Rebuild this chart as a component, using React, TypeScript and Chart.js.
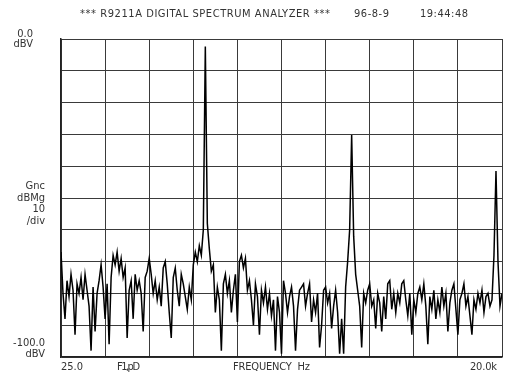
import React, { useEffect, useRef } from "react";
import { Chart, registerables } from "chart.js";

Chart.register(...registerables);

// Sweep span (Hz) and reference levels (dBV)
const FREQ_START = 25;
const FREQ_STOP = 20000;
const LEVEL_TOP = 0;
const LEVEL_BOTTOM = -100;

// Measured level per frequency bin, dBV (221 bins across the span)
const levels: number[] = [
  -67, -80, -88, -76, -81, -74, -79, -93, -77, -80,
  -75, -82, -74, -79, -84, -98, -78, -92, -80, -76,
  -71, -78, -88, -77, -96, -75, -68, -71, -67, -73,
  -69, -75, -72, -94, -79, -76, -88, -74, -79, -76,
  -80, -92, -75, -73, -69, -74, -80, -76, -82, -78,
  -84, -72, -70, -77, -86, -94, -75, -72, -79, -84,
  -74, -77, -81, -85, -78, -82, -71, -67, -70, -65,
  -68, -60, -2.4, -58, -66, -73, -71, -86, -78, -82,
  -98, -77, -74, -80, -76, -86, -79, -74, -89, -70,
  -68, -72, -69, -79, -76, -82, -90, -77, -81, -93,
  -79, -83, -78, -85, -80, -87, -82, -98, -81, -86,
  -99, -76, -80, -86, -81, -78, -84, -98, -85, -79,
  -78, -77, -84, -80, -77, -89, -82, -86, -80, -97,
  -90, -79, -78, -83, -80, -91, -84, -79, -86, -99,
  -88, -99, -78, -70, -60, -30.2, -62, -74, -79, -84,
  -97, -80, -83, -79, -77, -84, -82, -91, -80, -83,
  -92, -81, -88, -77, -76, -85, -80, -86, -80, -83,
  -77, -76, -82, -87, -80, -93, -82, -86, -80, -78,
  -82, -77, -84, -96, -81, -85, -79, -88, -82, -86,
  -78, -84, -80, -92, -83, -79, -77, -85, -93, -82,
  -80, -77, -84, -81, -87, -93, -82, -85, -80, -83,
  -79, -86, -81, -80, -84, -82, -68, -41.5, -70, -84,
  -80,
];

// Screen annotations
const headerTitle = "*** R9211A DIGITAL SPECTRUM ANALYZER ***";
const headerDate = "96-8-9";
const headerTime = "19:44:48";
const topRefLabel = ["0.0", "dBV"];
const scaleLabel = ["Gnc", "dBMg", "10", "/div"];
const bottomRefLabel = ["-100.0", "dBV"];
const startLabel = "25.0";
const markerLabel = "F1,pD";
const axisLabel = "FREQUENCY  Hz";
const stopLabel = "20.0k";

const DIVISIONS = 10;

const FONT = '"Liberation Sans Narrow", "DejaVu Sans Condensed", sans-serif';
const INK = "#333";

export default function App() {
  const canvasRef = useRef<HTMLCanvasElement | null>(null);

  useEffect(() => {
    const canvas = canvasRef.current;
    if (!canvas) return;

    const binWidth = (FREQ_STOP - FREQ_START) / (levels.length - 1);
    const points = levels.map((v, i) => ({ x: FREQ_START + i * binWidth, y: v }));
    const gridFreqs = Array.from({ length: DIVISIONS + 1 }, (_, i) =>
      FREQ_START + (i * (FREQ_STOP - FREQ_START)) / DIVISIONS
    );

    const textPlugin = {
      id: "screenText",
      afterDraw(chart: Chart) {
        const ctx = chart.ctx;
        const area = chart.chartArea;
        ctx.save();
        ctx.fillStyle = INK;
        ctx.textBaseline = "alphabetic";

        const fit = (text: string, x: number, y: number, width: number, size: number) => {
          ctx.font = `${size}px ${FONT}`;
          (ctx as any).letterSpacing = "0px";
          const w = ctx.measureText(text).width;
          const spacing = text.length > 1 ? (width - w) / (text.length - 1) : 0;
          (ctx as any).letterSpacing = `${spacing}px`;
          ctx.textAlign = "left";
          ctx.fillText(text, x, y);
          (ctx as any).letterSpacing = "0px";
        };
        const right = (text: string, x: number, y: number, size: number) => {
          ctx.font = `${size}px ${FONT}`;
          ctx.textAlign = "right";
          ctx.fillText(text, x, y);
        };

        // header line
        fit(headerTitle, 80, 17, 250, 11);
        fit(headerDate, 354, 17, 35, 11);
        fit(headerTime, 420, 17, 48, 11);

        // left-hand reference labels
        right(topRefLabel[0], 33, area.top - 2, 11);
        right(topRefLabel[1], 33, area.top + 8, 11);
        const scaleY = [189, 201, 212, 224];
        scaleLabel.forEach((t, i) => right(t, 45, scaleY[i], 11));
        right(bottomRefLabel[0], 45, area.bottom - 11, 11);
        right(bottomRefLabel[1], 45, area.bottom, 11);

        // frequency axis labels
        const by = area.bottom + 13;
        fit(startLabel, area.left, by, 22, 11);
        fit(markerLabel, 117, by, 23, 11);
        fit(axisLabel, 233, by, 77, 11);
        fit(stopLabel, 470, by, 27, 11);
        ctx.restore();
      },
    };

    const chart = new Chart(canvas, {
      type: "line",
      data: {
        datasets: [
          {
            data: points,
            borderColor: "#000",
            borderWidth: 1.5,
            pointRadius: 0,
            tension: 0,
            fill: false,
          },
        ],
      },
      options: {
        animation: false,
        responsive: false,
        maintainAspectRatio: false,
        parsing: false as any,
        layout: { padding: { left: 61, top: 39, right: 5, bottom: 18 } },
        plugins: { legend: { display: false }, tooltip: { enabled: false } },
        scales: {
          x: {
            type: "linear",
            min: FREQ_START,
            max: FREQ_STOP,
            afterBuildTicks: (axis: any) => {
              axis.ticks = gridFreqs.map((v) => ({ value: v }));
            },
            ticks: { display: false },
            grid: { color: "#3a3a3a", lineWidth: 1, drawTicks: false },
            border: { display: true, color: "#222", width: 1.5 },
          },
          y: {
            type: "linear",
            min: LEVEL_BOTTOM,
            max: LEVEL_TOP,
            ticks: { display: false, stepSize: (LEVEL_TOP - LEVEL_BOTTOM) / DIVISIONS },
            grid: { color: "#3a3a3a", lineWidth: 1, drawTicks: false },
            border: { display: true, color: "#222", width: 1.5 },
          },
        },
      },
      plugins: [textPlugin],
    });

    return () => chart.destroy();
  }, []);

  return (
    <div style={{ position: "fixed", left: 0, top: 0, width: 507, height: 375, background: "#fff" }}>
      <canvas ref={canvasRef} width={507} height={375} style={{ display: "block" }} />
    </div>
  );
}
